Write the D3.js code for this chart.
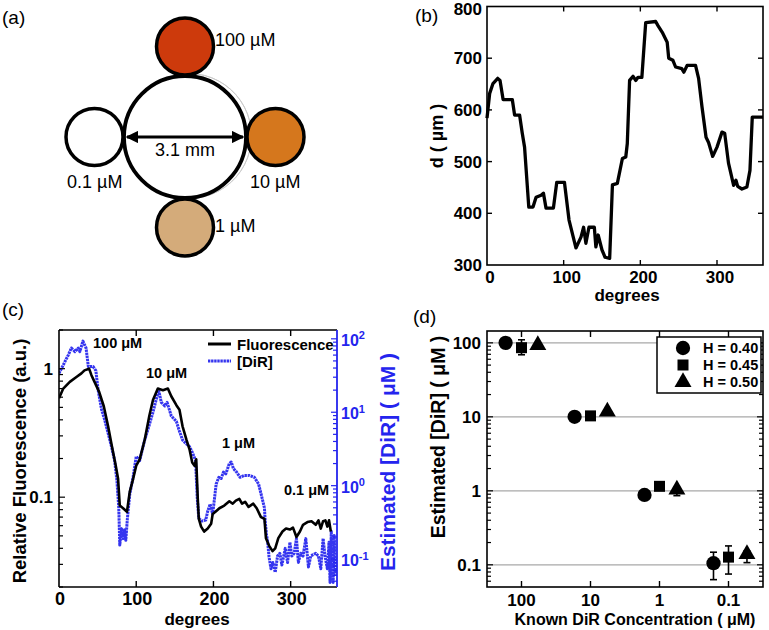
<!DOCTYPE html>
<html><head><meta charset="utf-8">
<script src="https://cdn.jsdelivr.net/npm/d3@7"></script>
<style>
body{margin:0;background:#fff}
svg{display:block}
text{font-family:"Liberation Sans",Arial,Helvetica,sans-serif}
</style>
</head><body>
<svg id="fig" width="769" height="630"></svg>
<script>
// ---------------- DATA ----------------
// (a) wells
const wellLabels = ["100 µM", "10 µM", "1 µM", "0.1 µM"];
const wellAngles = [-90, 0, 90, 180];
const wellFills = ["#cd3a0c", "#d5771d", "#d4ab7a", "#ffffff"];

// (b) distance d (µm) vs degrees
const bDeg = [0,3.5,7.8,14,17,21,33,36,42.5,46,49,54.5,60,64,70.6,73.6,77,86.6,91,101,107,116,122.6,126,129,133,140,142,145,150,154,160,163.6,170,176.6,181,183,186,190.5,194,197,202,207,220,223,228.6,235,237,242.5,246,254,256.8,261,272,276,280.5,285.7,289,294.4,300,306.5,310,315,321.7,324.7,327,332.5,339,343,346,360];
const bD = [584,632,651,661,657,620,620,590,590,555,528,412,412,431,435,439,410,410,460,460,387,333,354,373,342,373,373,335,358,329,315,313,455,458,506,509,535,657,665,657,663,663,769,771,763,750,731,700,696,683,680,673,686,686,661,605,547,537,510,528,557,555,497,454,464,452,447,451,483,586,586];
const bXTicks = [0,100,200,300];
const bYTicks = [300,400,500,600,700,800];

// (c) relative fluorescence and estimated [DiR] vs degrees
const cFluorDeg = [0,5.5,14,23,29,33,39,42,46,52,58,63.6,68,73.5,76.5,78.7,83,88,91.6,96,100,104.5,111,117,121.7,128,134.6,141,145.4,152,156,160,165,169,172.5,175.5,177.7,179.7,181,184,188,192.6,197,199,202.6,207.7,214,220.6,225,229,233.5,237,241,245.5,251.6,256,261.5,266,268,272,276.5,280,284,289.4,294,299,303,307.5,312,316,321.7,327,332.5,336,339,342,345,347.5,349.7,352];
const cFluor = [0.59,0.70,0.79,0.865,0.92,0.97,1.0,0.89,0.79,0.66,0.51,0.356,0.258,0.176,0.139,0.086,0.082,0.077,0.11,0.139,0.176,0.197,0.28,0.43,0.57,0.70,0.68,0.70,0.61,0.52,0.48,0.356,0.28,0.236,0.186,0.176,0.197,0.097,0.068,0.059,0.054,0.057,0.062,0.074,0.077,0.082,0.086,0.093,0.089,0.094,0.097,0.089,0.092,0.084,0.089,0.082,0.070,0.068,0.048,0.042,0.038,0.040,0.048,0.054,0.057,0.056,0.058,0.049,0.054,0.061,0.064,0.065,0.061,0.066,0.057,0.065,0.066,0.059,0.066,0.054];
const cDirDeg = [0,5.5,12,16,20.6,25,27,31,35,38,44,47.7,50.7,55,59,63.6,68,72,75,77.4,78.7,81,83,85,86.5,88.6,91.6,96,100,104.5,111,116.5,121.7,126,129,132.5,137,140,145.4,152,156,160,165,169,173,176.8,179,181,185,190,192.6,195.7,199,201,203.5,207,210,213,216,220.6,223,226,230,234.5,240,246.5,253,258.5,262.8,266,267,268.8,270,272,274.5,277,280,283,286,288.6,293,296,299,301.5,304.5,307.5,310,313,316,319.6,323,326,329,332.5,336,339,342,344.5,347.5,349.7,351,352.6,355,356.5,358];
const cDir = [34,44,60,75,67,75,67,93,75,42,42,37,20,11,8,5.2,3.4,2.2,1.17,0.5,0.155,0.26,0.19,0.25,0.18,0.36,0.76,1.32,2.5,2.2,4.2,6.5,10,15,20,13.6,12.2,13.6,8.9,7.5,5.5,4.2,3.7,3.4,2.8,2.2,0.69,0.36,0.33,0.34,0.45,0.56,0.41,0.62,1.05,1.3,1.25,1.53,1.45,2.0,2.1,1.7,1.53,1.3,1.38,1.38,1.3,1.05,0.69,0.5,0.33,0.21,0.18,0.107,0.074,0.09,0.066,0.11,0.12,0.083,0.14,0.09,0.17,0.11,0.12,0.19,0.09,0.12,0.11,0.19,0.078,0.11,0.115,0.12,0.11,0.074,0.19,0.11,0.074,0.17,0.048,0.24,0.048,0.21,0.06];
const cAnnotLabels = ["100 μM", "10 μM", "1 μM", "0.1 μM"];
const cLeftTicks = [0.1, 1];
const cRightTicks = [0.1, 1, 10, 100];
const cXTicks = [0,100,200,300];

// (d) estimated vs known concentration
const knownConc = [100, 10, 1, 0.1];
const dSeries = [
  {name:"H = 0.40", shape:"circle",   x:[170, 17, 1.65, 0.165], y:[100, 10, 0.88, 0.105], lo:[null,null,null,0.063], hi:[null,null,null,0.148]},
  {name:"H = 0.45", shape:"square",   x:[100, 10, 1, 0.1],       y:[86, 10.3, 1.15, 0.127], lo:[69,null,null,0.075], hi:[110,null,null,0.18]},
  {name:"H = 0.50", shape:"triangle", x:[58, 5.7, 0.56, 0.054], y:[93, 11.8, 1.04, 0.14], lo:[null,null,0.86,0.107], hi:[null,null,null,0.154]}
];
const dTickLabels = ["100","10","1","0.1"];

// ---------------- DRAW ----------------
const svg = d3.select("#fig");
const defs = svg.append("defs");

function txt(g, x, y, s, opt={}) {
  const t = g.append("text").attr("x", x).attr("y", y).text(s)
    .attr("font-size", opt.size || 16)
    .attr("font-weight", opt.weight || "bold")
    .attr("text-anchor", opt.anchor || "start")
    .attr("fill", opt.fill || "#000");
  if (opt.rotate) t.attr("transform", `rotate(${opt.rotate},${x},${y})`);
  if (opt.dy) t.attr("dy", opt.dy);
  return t;
}

// ===== Panel (a) =====
const ga = svg.append("g");
txt(ga, 2, 24, "(a)", {size:19, weight:"normal"});
const aC = {x:185, y:137}, aR = 61, wR = 28.5;
// faint outline
ga.append("path")
  .attr("d", d3.arc().innerRadius(aR+1.5).outerRadius(aR+1.5).startAngle(-0.35).endAngle(Math.PI+0.35)())
  .attr("transform",`translate(${aC.x+4},${aC.y-1})`)
  .attr("fill","none").attr("stroke","#c8c8c8").attr("stroke-width",0.9);
const wellPos = d3.scaleLinear().domain([0,360]).range([0, 2*Math.PI]);
wellAngles.forEach((a,i)=>{
  const th = wellPos(a);
  const cx = aC.x + (aR+wR+1)*Math.cos(th), cy = aC.y + (aR+wR+1)*Math.sin(th);
  ga.append("circle").attr("cx",cx).attr("cy",cy).attr("r",wR)
    .attr("fill",wellFills[i]).attr("stroke","#000").attr("stroke-width",3.5);
});
ga.append("circle").attr("cx",aC.x).attr("cy",aC.y).attr("r",aR)
  .attr("fill","none").attr("stroke","#000").attr("stroke-width",3.8);
// arrow
defs.append("marker").attr("id","ah").attr("viewBox","0 0 10 10").attr("refX",9).attr("refY",5)
  .attr("markerWidth",4.2).attr("markerHeight",4.2).attr("orient","auto-start-reverse")
  .append("path").attr("d","M0,0 L10,5 L0,10 z").attr("fill","#000");
ga.append("line").attr("x1",aC.x-aR+3).attr("x2",aC.x+aR-3).attr("y1",aC.y).attr("y2",aC.y)
  .attr("stroke","#000").attr("stroke-width",3)
  .attr("marker-start","url(#ah)").attr("marker-end","url(#ah)");
txt(ga, aC.x, 156, "3.1 mm", {size:18, weight:"normal", anchor:"middle"});
txt(ga, 215, 46, wellLabels[0], {size:18, weight:"normal"});
txt(ga, 250, 188, wellLabels[1], {size:18, weight:"normal"});
txt(ga, 215, 232, wellLabels[2], {size:18, weight:"normal"});
txt(ga, 67, 188, wellLabels[3], {size:18, weight:"normal"});

// ===== Panel (b) =====
const gb = svg.append("g");
const bx = d3.scaleLinear().domain([0,360]).range([487,763]);
const by = d3.scaleLinear().domain([300,800]).range([265,6.5]);
txt(gb, 415, 22, "(b)", {size:19, weight:"normal"});
gb.append("path").datum(bDeg.map((d,i)=>[d,bD[i]]))
  .attr("d", d3.line().x(d=>bx(d[0])).y(d=>by(d[1])))
  .attr("fill","none").attr("stroke","#000").attr("stroke-width",3.3).attr("stroke-linejoin","round");
gb.append("rect").attr("x",bx(0)).attr("y",by(800)).attr("width",bx(360)-bx(0)).attr("height",by(300)-by(800))
  .attr("fill","none").attr("stroke","#000").attr("stroke-width",1.6);
bXTicks.slice(1).forEach(t=>{
  gb.append("line").attr("x1",bx(t)).attr("x2",bx(t)).attr("y1",by(300)).attr("y2",by(300)-5).attr("stroke","#000").attr("stroke-width",1.4);
  gb.append("line").attr("x1",bx(t)).attr("x2",bx(t)).attr("y1",by(800)).attr("y2",by(800)+5).attr("stroke","#000").attr("stroke-width",1.4);
});
bYTicks.slice(1,-1).forEach(t=>{
  gb.append("line").attr("x1",bx(0)).attr("x2",bx(0)+5).attr("y1",by(t)).attr("y2",by(t)).attr("stroke","#000").attr("stroke-width",1.4);
  gb.append("line").attr("x1",bx(360)).attr("x2",bx(360)-5).attr("y1",by(t)).attr("y2",by(t)).attr("stroke","#000").attr("stroke-width",1.4);
});
bYTicks.forEach(t=> txt(gb, 482, Math.max(by(t), 8.5), t, {size:17, anchor:"end", dy:"0.36em"}));
bXTicks.forEach(t=> txt(gb, bx(t)+3, 283, t, {size:17, anchor:"middle"}));
txt(gb, 627, 301, "degrees", {size:17, anchor:"middle"});
txt(gb, 443, 136, "d ( µm )", {size:18, anchor:"middle", rotate:-90});

// ===== Panel (c) =====
const gc = svg.append("g");
const cx = d3.scaleLinear().domain([0,360]).range([59,337]);
const cyL = d3.scaleLog().domain([0.02,2]).range([587,330]);
const cyR = d3.scaleLog().domain([Math.pow(10,-1.38), Math.pow(10,2.12)]).range([587,330]);
txt(gc, 2, 316, "(c)", {size:19, weight:"normal"});
defs.append("clipPath").attr("id","clipc").append("rect")
  .attr("x",cx(0)).attr("y",330).attr("width",cx(360)-cx(0)).attr("height",257);
const blue = "#2424ee";
gc.append("path").datum(cDirDeg.map((d,i)=>[d,cDir[i]]))
  .attr("clip-path","url(#clipc)")
  .attr("d", d3.line().x(d=>cx(d[0])).y(d=>cyR(d[1])))
  .attr("fill","none").attr("stroke",blue).attr("stroke-width",3).attr("stroke-dasharray","2.4,0.7")
  .attr("stroke-opacity",0.92).attr("stroke-linejoin","round");
gc.append("path").datum(cFluorDeg.map((d,i)=>[d,cFluor[i]]))
  .attr("clip-path","url(#clipc)")
  .attr("d", d3.line().x(d=>cx(d[0])).y(d=>cyL(d[1])))
  .attr("fill","none").attr("stroke","#000").attr("stroke-width",2.6).attr("stroke-linejoin","round");
// frame
gc.append("line").attr("x1",cx(0)).attr("x2",cx(360)).attr("y1",330).attr("y2",330).attr("stroke","#000").attr("stroke-width",1.6);
gc.append("line").attr("x1",cx(0)).attr("x2",cx(360)).attr("y1",587).attr("y2",587).attr("stroke","#000").attr("stroke-width",1.6);
gc.append("line").attr("x1",cx(0)).attr("x2",cx(0)).attr("y1",330).attr("y2",587).attr("stroke","#000").attr("stroke-width",1.6);
gc.append("line").attr("x1",cx(360)).attr("x2",cx(360)).attr("y1",330).attr("y2",587).attr("stroke",blue).attr("stroke-width",1.8);
// left ticks (log, minor included)
cyL.ticks().forEach(t=>{
  const major = cLeftTicks.some(m=>Math.abs(m-t)<1e-9);
  gc.append("line").attr("x1",cx(0)).attr("x2",cx(0)+(major?6:4)).attr("y1",cyL(t)).attr("y2",cyL(t)).attr("stroke","#000").attr("stroke-width",1.2);
});
cyR.ticks().forEach(t=>{
  const major = cRightTicks.some(m=>Math.abs(m/t-1)<1e-6);
  gc.append("line").attr("x1",cx(360)).attr("x2",cx(360)-(major?6:4)).attr("y1",cyR(t)).attr("y2",cyR(t)).attr("stroke",blue).attr("stroke-width",1.2);
});
cXTicks.slice(1).forEach(t=>{
  gc.append("line").attr("x1",cx(t)).attr("x2",cx(t)).attr("y1",587).attr("y2",581).attr("stroke","#000").attr("stroke-width",1.4);
  gc.append("line").attr("x1",cx(t)).attr("x2",cx(t)).attr("y1",330).attr("y2",336).attr("stroke","#000").attr("stroke-width",1.4);
});
cLeftTicks.forEach(t=> txt(gc, 53, cyL(t), t, {size:17, anchor:"end", dy:"0.36em"}));
cRightTicks.forEach(t=>{
  const e = Math.round(Math.log10(t));
  const tt = txt(gc, 341, cyR(t), "10", {size:16, fill:blue, dy:"0.45em"});
  tt.append("tspan").attr("dy","-0.6em").attr("font-size",11).text(e);
});
cXTicks.forEach(t=> txt(gc, cx(t)+1, 605, t, {size:18, anchor:"middle"}));
txt(gc, 197, 625, "degrees", {size:17, anchor:"middle"});
txt(gc, 26, 461, "Relative Fluorescence (a.u.)", {size:18.5, anchor:"middle", rotate:-90});
txt(gc, 395, 462, "Estimated [DiR] ( μM )", {size:21, anchor:"middle", rotate:-90, fill:blue});
// annotations
txt(gc, 93, 348, cAnnotLabels[0], {size:14.5});
txt(gc, 146, 378, cAnnotLabels[1], {size:14.5});
txt(gc, 222, 448, cAnnotLabels[2], {size:14.5});
txt(gc, 284, 495, cAnnotLabels[3], {size:14.5});
// legend
gc.append("line").attr("x1",208).attr("x2",231).attr("y1",344).attr("y2",344).attr("stroke","#000").attr("stroke-width",3);
txt(gc, 237, 349.5, "Fluorescence", {size:15});
gc.append("line").attr("x1",208).attr("x2",231).attr("y1",361).attr("y2",361).attr("stroke",blue).attr("stroke-width",3).attr("stroke-dasharray","2.4,0.7").attr("stroke-opacity",0.92);
txt(gc, 237, 366.5, "[DiR]", {size:15});

// ===== Panel (d) =====
const gd = svg.append("g");
const dx = d3.scaleLog().domain([Math.pow(10,2.5), Math.pow(10,-1.5)]).range([487,763]);
const dy = d3.scaleLog().domain([Math.pow(10,-1.3), Math.pow(10,2.16)]).range([587,331]);
txt(gd, 413, 323, "(d)", {size:19, weight:"normal"});
knownConc.forEach(k=>{
  gd.append("line").attr("x1",dx.range()[0]).attr("x2",dx.range()[1]).attr("y1",dy(k)).attr("y2",dy(k))
    .attr("stroke","#a8a8a8").attr("stroke-width",1.2);
});
gd.append("rect").attr("x",487).attr("y",331).attr("width",276).attr("height",256)
  .attr("fill","none").attr("stroke","#000").attr("stroke-width",1.6);
dy.ticks().forEach(t=>{
  const major = knownConc.some(m=>Math.abs(m/t-1)<1e-6);
  [[487,1],[763,-1]].forEach(([x0,s])=>{
    gd.append("line").attr("x1",x0).attr("x2",x0+s*(major?6:4)).attr("y1",dy(t)).attr("y2",dy(t)).attr("stroke","#000").attr("stroke-width",1.2);
  });
});
knownConc.forEach(k=>{
  gd.append("line").attr("x1",dx(k)).attr("x2",dx(k)).attr("y1",587).attr("y2",581).attr("stroke","#000").attr("stroke-width",1.4);
  gd.append("line").attr("x1",dx(k)).attr("x2",dx(k)).attr("y1",331).attr("y2",337).attr("stroke","#000").attr("stroke-width",1.4);
});
knownConc.forEach((k,i)=>{
  txt(gd, 481, dy(k), dTickLabels[i], {size:17, anchor:"end", dy:"0.36em"});
  txt(gd, dx(k), 606, dTickLabels[i], {size:17, anchor:"middle"});
});
txt(gd, 635, 625, "Known DiR Concentration ( μM)", {size:16, anchor:"middle"});
txt(gd, 445, 437, "Estimated [DiR] ( μM )", {size:19.5, anchor:"middle", rotate:-90});
const symType = {circle:d3.symbolCircle, square:d3.symbolSquare, triangle:d3.symbolTriangle};
const symSize = {circle:160, square:121, triangle:125};
dSeries.forEach(s=>{
  s.x.forEach((xv,i)=>{
    const X = dx(xv);
    const lo = s.lo[i], hi = s.hi[i];
    if (lo!==null || hi!==null) {
      const y1 = dy(hi!==null?hi:s.y[i]), y2 = dy(lo!==null?lo:s.y[i]);
      gd.append("line").attr("x1",X).attr("x2",X).attr("y1",y1).attr("y2",y2).attr("stroke","#000").attr("stroke-width",1.6);
      if (hi!==null) gd.append("line").attr("x1",X-3.5).attr("x2",X+3.5).attr("y1",y1).attr("y2",y1).attr("stroke","#000").attr("stroke-width",1.6);
      if (lo!==null) gd.append("line").attr("x1",X-3.5).attr("x2",X+3.5).attr("y1",y2).attr("y2",y2).attr("stroke","#000").attr("stroke-width",1.6);
    }
    gd.append("path").attr("d", d3.symbol().type(symType[s.shape]).size(symSize[s.shape])())
      .attr("transform",`translate(${X},${dy(s.y[i])})`).attr("fill","#000");
  });
});
// legend
gd.append("rect").attr("x",657).attr("y",337).attr("width",104).attr("height",56)
  .attr("fill","#fff").attr("stroke","#000").attr("stroke-width",1.5);
dSeries.forEach((s,i)=>{
  const ly = 348 + i*17;
  gd.append("path").attr("d", d3.symbol().type(symType[s.shape]).size(symSize[s.shape])())
    .attr("transform",`translate(683,${ly})`).attr("fill","#000");
  txt(gd, 703, ly, s.name, {size:14.5, dy:"0.36em"});
});
</script>
</body></html>
